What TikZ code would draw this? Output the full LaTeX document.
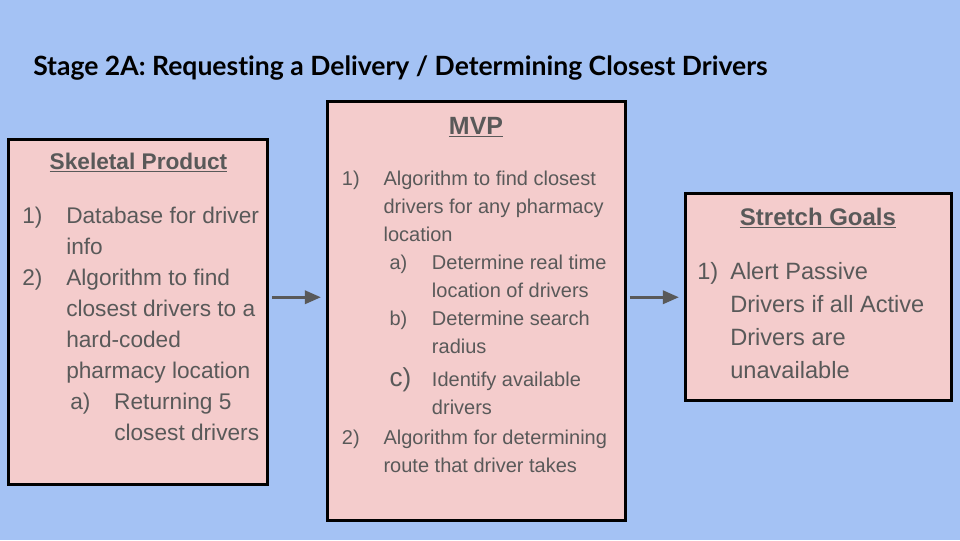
\documentclass[tikz,border=0pt]{standalone}
\usepackage{fontspec}
\setmainfont{Liberation Sans}
\newfontfamily\latofont[Ligatures=NoCommon]{Lato}
\usetikzlibrary{arrows.meta}

\definecolor{slidebg}{HTML}{A4C2F4}
\definecolor{panelfill}{HTML}{F4CCCC}
\definecolor{inktext}{HTML}{595959}

% label box of fixed width for list numbers
\newcommand{\lab}[2]{\makebox[#1][l]{#2}}

\begin{document}
\begin{tikzpicture}[x=0.75pt,y=-0.75pt,
    panel/.style={draw=black,fill=panelfill,line width=2.25pt,inner sep=0pt},
    head/.style={text=inktext,font=\bfseries,anchor=base,inner sep=0pt},
    list/.style={text=inktext,anchor=base west,inner sep=0pt},
    flow/.style={draw=inktext,line width=2pt,-{Triangle[length=12pt,width=10pt]},
      shorten <=2.5pt,shorten >=3.5pt}]
  \useasboundingbox (0,0) rectangle (960,540);
  \fill[slidebg] (0,0) rectangle (960,540);

  \node[anchor=base west,inner sep=0pt,font=\latofont\bfseries\fontsize{19.9}{24}\selectfont] (title)
    at (33,75) {Stage 2A: Requesting a Delivery / Determining Closest Drivers};

  \node[panel,minimum width=193.9pt,minimum height=258.75pt] (skel) at (137.75,311.5) {};
  \node[panel,minimum width=223.5pt,minimum height=313.9pt] (mvp) at (476,311.25) {};
  \node[panel,minimum width=199.5pt,minimum height=154.9pt] (stretch) at (818,297.25) {};

  \node[head,font=\bfseries\fontsize{17}{20}\selectfont] (skel-head) at (138.5,169) {\underline{Skeletal Product}};
  \node[head,font=\bfseries\fontsize{18.7}{22}\selectfont] (mvp-head) at (476,134) {\underline{MVP}};
  \node[head,font=\bfseries\fontsize{18}{22}\selectfont] (stretch-head) at (818,225) {\underline{Stretch Goals}};

  \node[list,font=\fontsize{17}{23.25}\selectfont] (skel-list) at (22,223) {\vtop{%
    \hbox{\lab{33pt}{1)}Database for driver}
    \hbox{\hspace*{33pt}info}
    \hbox{\lab{33pt}{2)}Algorithm to find}
    \hbox{\hspace*{33pt}closest drivers to a}
    \hbox{\hspace*{33pt}hard-coded}
    \hbox{\hspace*{33pt}pharmacy location}
    \hbox{\hspace*{36pt}\lab{33pt}{a)}Returning 5}
    \hbox{\hspace*{69pt}closest drivers}}};

  \node[list,font=\fontsize{15}{21}\selectfont] (mvp-list) at (341.7,185) {\vtop{%
    \hbox{\lab{31.2pt}{1)}Algorithm to find closest}
    \hbox{\hspace*{31.2pt}drivers for any pharmacy}
    \hbox{\hspace*{31.2pt}location}
    \hbox{\hspace*{35.7pt}\lab{31.8pt}{a)}Determine real time}
    \hbox{\hspace*{67.5pt}location of drivers}
    \hbox{\hspace*{35.7pt}\lab{31.8pt}{b)}Determine search}
    \hbox{\hspace*{67.5pt}radius}
    \vskip 4.3pt
    \hbox{\hspace*{35.7pt}\lab{31.8pt}{\fontsize{19.5}{21}\selectfont c)}Identify available}
    \hbox{\hspace*{67.5pt}drivers}
    \vskip 1pt
    \hbox{\lab{31.2pt}{2)}Algorithm for determining}
    \hbox{\hspace*{31.2pt}route that driver takes}}};

  \node[list,font=\fontsize{17.7}{24.75}\selectfont] (stretch-list) at (697,279.5) {\vtop{%
    \hbox{\lab{24.75pt}{1)}Alert Passive}
    \hbox{\hspace*{24.75pt}Drivers if all Active}
    \hbox{\hspace*{24.75pt}Drivers are}
    \hbox{\hspace*{24.75pt}unavailable}}};

  \draw[flow] (skel.east |- stretch) -- (mvp.west |- stretch);
  \draw[flow] (mvp.east |- stretch) -- (stretch.west);
\end{tikzpicture}
\end{document}
